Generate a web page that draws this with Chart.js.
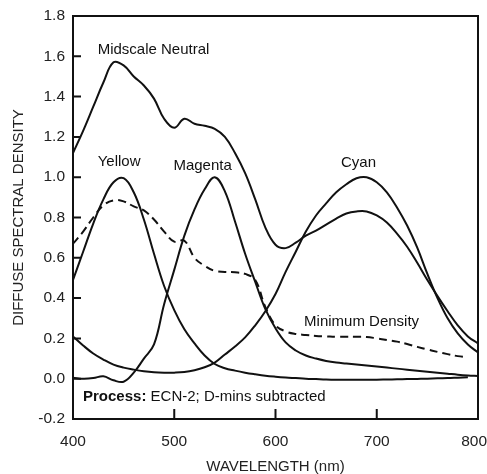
<!DOCTYPE html>
<html>
<head>
    <title>Diffuse Spectral Density</title>
    <script src="https://cdn.jsdelivr.net/npm/chart.js@4.4.0/dist/chart.umd.min.js"></script>
    <style>
        body { margin: 0; background: #fff; }
        .chart-box { width: 487px; height: 474px; }
    </style>
</head>
<body>
    <div class="chart-box"><canvas id="densityChart"></canvas></div>

    <script>
        // wavelength grid (nm) shared by all curves
        const wavelengths = [400, 410, 420, 430, 440, 450, 460, 470, 480, 490,
                             500, 510, 520, 530, 540, 550, 560, 570, 580, 590,
                             600, 610, 620, 630, 640, 650, 660, 670, 680, 690,
                             700, 710, 720, 730, 740, 750, 760, 770, 780, 790, 800];

        const midscaleNeutral = [1.12, 1.23, 1.35, 1.47, 1.57, 1.555, 1.50, 1.455, 1.39, 1.29,
                                 1.245, 1.29, 1.265, 1.255, 1.24, 1.20, 1.12, 1.02, 0.89, 0.75,
                                 0.665, 0.648, 0.675, 0.71, 0.735, 0.765, 0.795, 0.82, 0.83, 0.83,
                                 0.81, 0.775, 0.72, 0.655, 0.575, 0.49, 0.41, 0.335, 0.265, 0.21, 0.175];

        const yellow = [0.49, 0.63, 0.77, 0.89, 0.975, 0.995, 0.925, 0.79, 0.62, 0.46,
                        0.34, 0.245, 0.175, 0.115, 0.073, 0.052, 0.04, 0.03, 0.022, 0.015,
                        0.01, 0.006, 0.003, 0.0, -0.002, -0.004, -0.005, -0.005, -0.005, -0.005,
                        -0.005, -0.004, -0.003, -0.002, -0.001, 0.0, 0.002, 0.003, 0.005, 0.007, null];

        const magenta = [0.005, 0.0, 0.003, 0.012, -0.008, -0.015, 0.03, 0.10, 0.17, 0.37,
                         0.54, 0.71, 0.84, 0.94, 1.0, 0.93, 0.78, 0.62, 0.48, 0.345,
                         0.25, 0.18, 0.14, 0.115, 0.10, 0.088, 0.08, 0.075, 0.07, 0.065,
                         0.06, 0.055, 0.05, 0.045, 0.04, 0.035, 0.03, 0.025, 0.02, 0.016, 0.013];

        const cyan = [0.21, 0.165, 0.125, 0.095, 0.07, 0.055, 0.045, 0.037, 0.032, 0.03,
                      0.03, 0.033, 0.042, 0.057, 0.08, 0.12, 0.16, 0.205, 0.265, 0.335,
                      0.42, 0.53, 0.63, 0.73, 0.81, 0.87, 0.925, 0.965, 0.995, 1.0,
                      0.975, 0.925, 0.85, 0.76, 0.65, 0.52, 0.40, 0.30, 0.225, 0.17, 0.13];

        const minimumDensity = [0.67, 0.73, 0.80, 0.86, 0.885, 0.88, 0.855, 0.835, 0.79, 0.73,
                                0.68, 0.685, 0.60, 0.56, 0.535, 0.53, 0.528, 0.52, 0.49, 0.355,
                                0.265, 0.235, 0.222, 0.217, 0.212, 0.21, 0.208, 0.208, 0.208, 0.207,
                                0.20, 0.192, 0.184, 0.172, 0.158, 0.145, 0.133, 0.122, 0.112, 0.106, null];

        const yTickLabels = ['-0.2', '0.0', '0.2', '0.4', '0.6', '0.8', '1.0', '1.2', '1.4', '1.6', '1.8'];
        const xTickLabels = ['400', '500', '600', '700', '800'];

        // text written next to the curves (data coordinates)
        const curveLabels = [
            { text: 'Midscale Neutral', x: 479.5, y: 1.631 },
            { text: 'Yellow', x: 445.5, y: 1.075 },
            { text: 'Magenta', x: 528, y: 1.055 },
            { text: 'Cyan', x: 682, y: 1.07 },
            { text: 'Minimum Density', x: 685, y: 0.281 }
        ];

        const FONT = '"Liberation Sans", Arial, sans-serif';
        const INK = '#111';

        function toPoints(values) {
            return wavelengths.map((w, i) => ({ x: w, y: values[i] }));
        }

        function curve(label, values, dashed) {
            return {
                label: label,
                data: toPoints(values),
                borderColor: INK,
                borderWidth: 2,
                borderDash: dashed ? [8, 5] : [],
                pointRadius: 0,
                fill: false,
                tension: 0.4,
                spanGaps: false
            };
        }

        // frame, inside tick marks and the curve labels
        const decorations = {
            id: 'decorations',
            afterDatasetsDraw(chart) {
                const { ctx, chartArea: a, scales: { x, y } } = chart;
                ctx.save();
                ctx.strokeStyle = INK;
                ctx.lineWidth = 2;
                ctx.strokeRect(a.left, a.top, a.right - a.left, a.bottom - a.top);

                ctx.beginPath();
                y.ticks.forEach(t => {
                    const py = y.getPixelForValue(t.value);
                    if (py <= a.top + 1 || py >= a.bottom - 1) return;
                    ctx.moveTo(a.left, py);
                    ctx.lineTo(a.left + 8, py);
                });
                x.ticks.forEach(t => {
                    const px = x.getPixelForValue(t.value);
                    if (px <= a.left + 1 || px >= a.right - 1) return;
                    ctx.moveTo(px, a.bottom);
                    ctx.lineTo(px, a.bottom - 10);
                });
                ctx.stroke();

                ctx.fillStyle = INK;
                ctx.textAlign = 'center';
                ctx.textBaseline = 'middle';
                ctx.font = '15px ' + FONT;
                curveLabels.forEach(l => {
                    ctx.fillText(l.text, x.getPixelForValue(l.x), y.getPixelForValue(l.y));
                });

                // process note
                const nx = x.getPixelForValue(409.9);
                const ny = y.getPixelForValue(-0.091);
                ctx.textAlign = 'left';
                ctx.font = 'bold 15px ' + FONT;
                ctx.fillText('Process:', nx, ny);
                const w = ctx.measureText('Process: ').width;
                ctx.font = '15px ' + FONT;
                ctx.fillText('ECN-2; D-mins subtracted', nx + w, ny);
                ctx.restore();
            }
        };

        new Chart(document.getElementById('densityChart'), {
            type: 'line',
            data: {
                datasets: [
                    curve('Midscale Neutral', midscaleNeutral, false),
                    curve('Yellow', yellow, false),
                    curve('Magenta', magenta, false),
                    curve('Cyan', cyan, false),
                    curve('Minimum Density', minimumDensity, true)
                ]
            },
            options: {
                responsive: true,
                maintainAspectRatio: false,
                animation: false,
                layout: { padding: { top: 16, right: 9, left: 0, bottom: 0 } },
                plugins: {
                    legend: { display: false },
                    tooltip: { enabled: false }
                },
                scales: {
                    x: {
                        type: 'linear',
                        min: 400,
                        max: 800,
                        grid: { display: false, drawTicks: false },
                        border: { display: false },
                        afterFit: s => {
                            s.height = 55;
                            s.paddingLeft = 0;
                            s.paddingRight = 0;
                        },
                        ticks: {
                            stepSize: 100,
                            padding: 13,
                            color: '#222',
                            font: { family: FONT, size: 15.5 },
                            maxRotation: 0,
                            // last label nudged left so it stays on the canvas
                            callback: (v, i) => i === xTickLabels.length - 1 ? xTickLabels[i] + '\u2002' : xTickLabels[i]
                        },
                        title: {
                            display: true,
                            text: 'WAVELENGTH (nm)',
                            color: '#222',
                            font: { family: FONT, size: 15, lineHeight: 1 },
                            padding: { top: 0, bottom: 0 }
                        }
                    },
                    y: {
                        min: -0.2,
                        max: 1.8,
                        grid: { display: false, drawTicks: false },
                        border: { display: false },
                        afterFit: s => {
                            s.width = 73;
                            s.paddingTop = 0;
                            s.paddingBottom = 0;
                        },
                        ticks: {
                            stepSize: 0.2,
                            padding: 8,
                            color: '#222',
                            font: { family: FONT, size: 15.5 },
                            callback: (v, i) => yTickLabels[i]
                        },
                        title: {
                            display: true,
                            text: 'DIFFUSE SPECTRAL DENSITY',
                            color: '#222',
                            font: { family: FONT, size: 15, lineHeight: 1 },
                            padding: { top: 11, bottom: 0 }
                        }
                    }
                }
            },
            plugins: [decorations]
        });
    </script>
</body>
</html>
